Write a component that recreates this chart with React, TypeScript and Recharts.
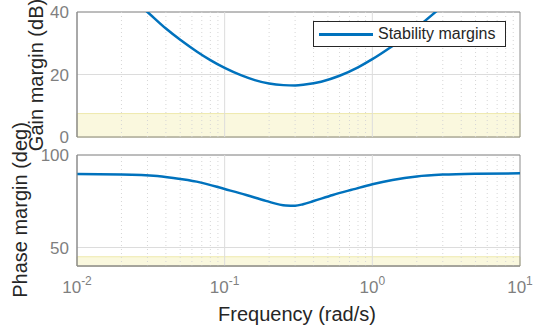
import React from "react";
import {
  LineChart,
  Line,
  XAxis,
  YAxis,
  CartesianGrid,
  ReferenceArea,
  ReferenceLine,
} from "recharts";

// gain margin curve (rad/s, dB)
const gainFreqs = [0.02, 0.03, 0.04, 0.05, 0.065, 0.08, 0.1, 0.13, 0.16, 0.2, 0.25, 0.3, 0.35, 0.45, 0.6, 0.8, 1, 1.3, 1.6, 2, 2.65, 3.5];
const gainDb = [47.1, 40, 34.7, 31.1, 27.3, 24.6, 22.1, 19.7, 18.2, 17.1, 16.6, 16.5, 16.8, 17.7, 19.6, 22.3, 24.9, 28.4, 31.4, 35, 39.8, 44.9];

// phase margin curve (rad/s, deg)
const phaseFreqs = [0.01, 0.02, 0.035, 0.05, 0.068, 0.1, 0.14, 0.19, 0.26, 0.3, 0.34, 0.4, 0.54, 0.74, 1, 1.37, 2, 3, 5, 10];
const phaseDeg = [89.7, 89.5, 88.6, 87, 85.2, 81.6, 78.4, 75.2, 72.7, 72.6, 73.4, 75.1, 78.4, 81.4, 84.2, 86.5, 88.4, 89.4, 89.9, 90.1];

const xTicks = [0.01, 0.1, 1, 10];
const gainTicks = [0, 20, 40];
const phaseTicks = [50, 100];
const gainBand = [0, 7.5];
const phaseBand = [40, 45];

const majorX = [0.1, 1];
const minorX: number[] = [];
[0.01, 0.1, 1].forEach((d) => {
  for (let k = 2; k <= 9; k++) minorX.push(+(d * k).toPrecision(3));
});

const gainData = gainFreqs.map((f, i) => ({ f, gain: gainDb[i] }));
const phaseData = phaseFreqs.map((f, i) => ({ f, phase: phaseDeg[i] }));

const FONT = '"Liberation Sans", Arial, sans-serif';
const BLUE = "#0072BD";
const BORDER = "#8c8c8c";
const TICK = "#7f7f7f";

const LogTick = ({ x, y, payload }: any) => {
  const exp = Math.round(Math.log10(payload.value));
  return (
    <text x={x} y={y + 19} textAnchor="middle" fill={TICK} fontFamily={FONT} fontSize={17}>
      10
      <tspan dy={-8} fontSize={12}>
        {exp}
      </tspan>
    </text>
  );
};

function gridLines() {
  return [
    ...minorX.map((v) => (
      <ReferenceLine key={`mn${v}`} x={v} stroke="#d6d6d6" strokeDasharray="1 3" />
    )),
    ...majorX.map((v) => <ReferenceLine key={`mj${v}`} x={v} stroke="#dcdcdc" />),
  ];
}

export default function App() {
  return (
    <div style={{ position: "absolute", left: 0, top: 0, width: 536, height: 329, background: "#fff", overflow: "hidden" }}>
      {/* Gain margin */}
      <div style={{ position: "absolute", left: 0, top: 0 }}>
        <LineChart width={536} height={150} data={gainData} margin={{ top: 12, right: 16, bottom: 13, left: 17 }}>
          <CartesianGrid vertical={false} stroke="#dcdcdc" />
          <ReferenceArea y1={gainBand[0]} y2={gainBand[1]} x1={0.01} x2={10} fill="#faf8de" fillOpacity={1} stroke="#eee9ad" />
          {gridLines()}
          <XAxis dataKey="f" type="number" scale="log" domain={[0.01, 10]} ticks={xTicks} hide height={0} allowDataOverflow />
          <YAxis
            domain={[0, 40]}
            ticks={gainTicks}
            width={60}
            allowDataOverflow
            tickLine={false}
            axisLine={{ stroke: BORDER }}
            tick={{ fill: TICK, fontSize: 17, fontFamily: FONT }}
          />
          <ReferenceArea y1={0} y2={40} x1={0.01} x2={10} fill="none" stroke={BORDER} />
          <Line type="monotone" dataKey="gain" stroke={BLUE} strokeWidth={2.5} dot={false} isAnimationActive={false} />
        </LineChart>
      </div>

      {/* legend */}
      <div
        style={{
          position: "absolute",
          left: 313,
          top: 21,
          width: 191,
          height: 24,
          border: "1px solid #262626",
          background: "#fff",
          display: "flex",
          alignItems: "center",
          fontFamily: FONT,
          fontSize: 16,
          color: "#262626",
        }}
      >
        <div style={{ width: 54, height: 3, background: BLUE, marginLeft: 5, marginRight: 5 }} />
        <span>Stability margins</span>
      </div>

      {/* Phase margin */}
      <div style={{ position: "absolute", left: 0, top: 0 }}>
        <LineChart width={536} height={329} data={phaseData} margin={{ top: 155, right: 16, bottom: 33, left: 17 }}>
          <CartesianGrid vertical={false} stroke="#dcdcdc" />
          <ReferenceArea y1={phaseBand[0]} y2={phaseBand[1]} x1={0.01} x2={10} fill="#faf8de" fillOpacity={1} stroke="#eee9ad" />
          {gridLines()}
          <XAxis
            dataKey="f"
            type="number"
            scale="log"
            domain={[0.01, 10]}
            ticks={xTicks}
            height={30}
            allowDataOverflow
            tickLine={false}
            axisLine={{ stroke: BORDER }}
            tick={<LogTick />}
            interval={0}
          />
          <YAxis
            domain={[40, 100]}
            ticks={phaseTicks}
            width={60}
            allowDataOverflow
            tickLine={false}
            axisLine={{ stroke: BORDER }}
            tick={{ fill: TICK, fontSize: 17, fontFamily: FONT }}
          />
          <ReferenceArea y1={40} y2={100} x1={0.01} x2={10} fill="none" stroke={BORDER} />
          <Line type="monotone" dataKey="phase" stroke={BLUE} strokeWidth={2.5} dot={false} isAnimationActive={false} />
        </LineChart>
      </div>

      {/* axis titles */}
      {[
        { text: "Gain margin (dB)", x: 36, y: 75, rot: true },
        { text: "Phase margin (deg)", x: 20, y: 210, rot: true },
        { text: "Frequency (rad/s)", x: 297, y: 314, rot: false },
      ].map((l) => (
        <div key={l.text} style={{ position: "absolute", left: l.x, top: l.y, width: 0, height: 0 }}>
          <div
            style={{
              position: "absolute",
              whiteSpace: "nowrap",
              fontFamily: FONT,
              fontSize: 20,
              color: "#262626",
              transform: `translate(-50%, -50%)${l.rot ? " rotate(-90deg)" : ""}`,
            }}
          >
            {l.text}
          </div>
        </div>
      ))}
    </div>
  );
}
